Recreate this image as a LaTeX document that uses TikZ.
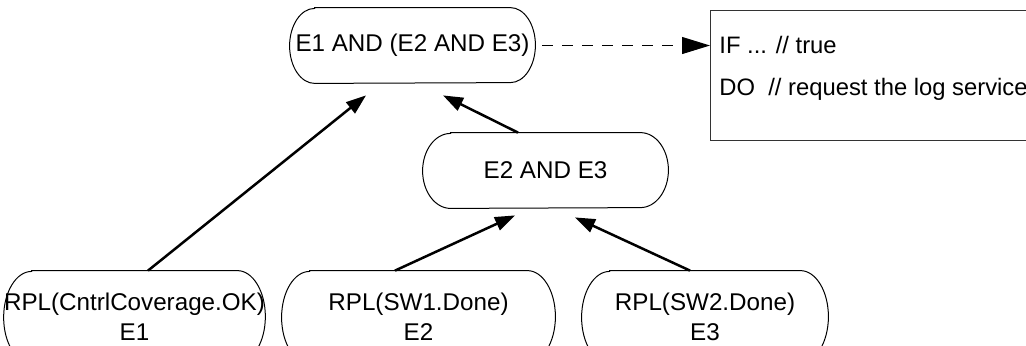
\documentclass[tikz,border=0pt]{standalone}
\usepackage{fontspec}
\setmainfont{Liberation Sans}
\usetikzlibrary{arrows.meta,calc}

\tikzset{
  term/.style={rectangle, draw=none, inner sep=0pt, align=center,
    font=\fontsize{12.1}{15}\selectfont},
  outline/.style={draw=black, line width=0.5pt},
  flow/.style={draw=black, line width=1.25pt, -{Triangle[length=10pt,width=7pt]}},
  trigger/.style={draw=black, line width=0.5pt, dash pattern=on 5.5pt off 4.5pt,
    -{Triangle[length=14pt,width=8.5pt]}},
  rulebox/.style={rectangle, draw=black!80, line width=0.7pt, anchor=north west,
    minimum width=200pt, minimum height=65pt, inner sep=0pt},
  ruletext/.style={anchor=west, inner sep=0pt, font=\fontsize{11.9}{15}\selectfont}
}

\begin{document}
\begin{tikzpicture}[x=0.5pt, y=-0.5pt]
\clip (0,0) rectangle (1026,345);

% composite events
\node[term, minimum width=122.5pt, minimum height=37.5pt] (top) at (412.5,45.5) {E1 AND (E2 AND E3)};
\node[term, minimum width=122.5pt, minimum height=37.5pt] (mid) at (545.5,170.5) {E2 AND E3};

% primitive events
\node[term, minimum width=127.5pt, minimum height=46pt] (e1) at (134.5,317) {RPL(CntrlCoverage.OK)\\E1};
\node[term, minimum width=136.5pt, minimum height=46pt] (e2) at (418.5,317) {RPL(SW1.Done)\\E2};
\node[term, minimum width=123pt, minimum height=46pt] (e3) at (705,317) {RPL(SW2.Done)\\E3};

% terminator outlines with elliptical ends
\foreach \n/\rx/\ry in {top/25/37.5, mid/28/37.5, e1/28/46, e2/28/46, e3/28/46} {
  \draw[outline]
    ($(\n.north west)+(\rx,0)$) -- ($(\n.north east)+(-\rx,0)$)
    arc[start angle=90, end angle=-90, x radius=\rx*0.5pt, y radius=\ry*0.5pt]
    -- ($(\n.south west)+(\rx,0)$)
    arc[start angle=270, end angle=90, x radius=\rx*0.5pt, y radius=\ry*0.5pt]
    -- cycle;
}

% rule action box
\node[rulebox] (rule) at (710,10) {};
\node[ruletext] (cond) at ($(rule.north west)+(9,35)$) {IF ... // true};
\node[ruletext] (act) at ($(rule.north west)+(9,79)$) {DO\ \ // request the log service};

% connectors
\draw[flow] ($(e1.north)+(13.5,0)$) -- ($(top.south)+(-46.5,12)$);
\draw[flow] ($(mid.north)+(-27.5,0)$) -- ($(top.south)+(30.5,12)$);
\draw[flow] ($(e2.north)+(-23.5,0)$) -- ($(mid.south)+(-30.5,7)$);
\draw[flow] ($(e3.north)+(-15,0)$) -- ($(mid.south)+(29.5,9)$);
\draw[trigger] ($(top.east)+(7,0)$) -- (top.east -| rule.west);
\end{tikzpicture}
\end{document}
